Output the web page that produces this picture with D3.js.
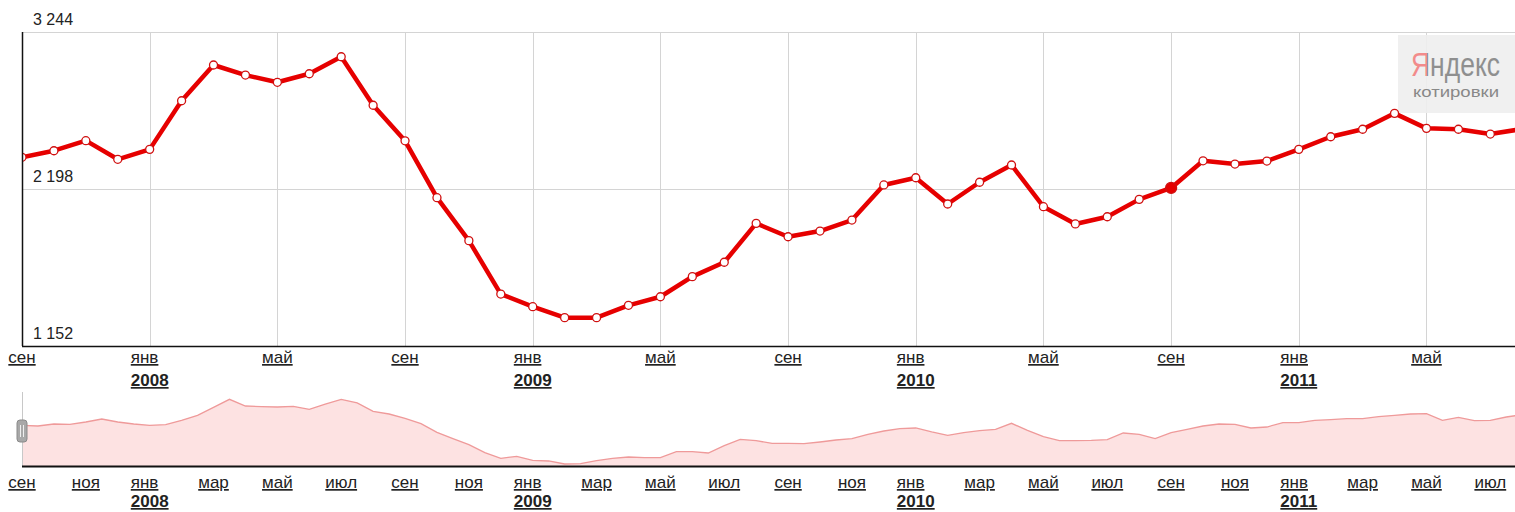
<!DOCTYPE html>
<html>
<head>
<meta charset="UTF-8">
<title>Котировки</title>
<script src="https://d3js.org/d3.v7.min.js"></script>
<style>
  body {margin:0; background:#fff;}
  text {font-family: "Liberation Sans", Arial, sans-serif; fill:#222;}
  .grid {stroke:#d4d4d4; stroke-width:1;}
  .lbl {font-size:17px; text-decoration:underline;}
  .yr {font-size:17px; font-weight:bold; text-decoration:underline;}
  .ylbl {font-size:16px; fill:#222;}
</style>
</head>
<body>
<div id="chart"></div>
<script>
// monthly closes shown on the main chart (sep 2007 .. aug 2011)
var startMonth = new Date(2007, 8, 1);
var months = d3.timeMonth.range(startMonth, new Date(2011, 8, 1));
var closeValues = [2409, 2453, 2520, 2396, 2462, 2786, 3024, 2957, 2909, 2966,
                   3079, 2756, 2519, 2140, 1854, 1498, 1414, 1341, 1341, 1423,
                   1480, 1614, 1710, 1969, 1880, 1918, 1991, 2225, 2273, 2098,
                   2243, 2358, 2080, 1965, 2013, 2129, 2205, 2386, 2364, 2384,
                   2462, 2546, 2596, 2702, 2602, 2596, 2564, 2598];
var highlightIndex = 36;   // sep 2010, drawn filled
var yTicks = [1152, 2198, 3244];

// navigator series, read twice a month (1st and 16th)
var navValues = [2409, 2389, 2448, 2438, 2507, 2595, 2507, 2448, 2409, 2429,
                 2556, 2702, 2937, 3171, 2976, 2956, 2946, 2966, 2878, 3034,
                 3171, 3064, 2819, 2741, 2614, 2458, 2204, 2018, 1842, 1608,
                 1442, 1500, 1383, 1364, 1276, 1286, 1373, 1442, 1481, 1461,
                 1461, 1637, 1637, 1598, 1813, 1999, 1960, 1881, 1881, 1872,
                 1921, 1979, 2018, 2145, 2243, 2311, 2331, 2214, 2116, 2194,
                 2253, 2292, 2468, 2262, 2077, 1960, 1960, 1969, 1989, 2184,
                 2145, 2018, 2194, 2292, 2389, 2448, 2438, 2331, 2360, 2487,
                 2487, 2556, 2575, 2604, 2604, 2663, 2702, 2741, 2751, 2556,
                 2644, 2546, 2556, 2653, 2722];
var navDomain = [1217, 3386];

var monthNames = ["янв","фев","мар","апр","май","июн","июл","авг","сен","окт","ноя","дек"];

var W = 1515, H = 512;
var left = 22, plotTop = 32, plotBottom = 346;
var navTop = 392, navBottom = 466;

var svg = d3.select("#chart").append("svg")
    .attr("width", W)
    .attr("height", H);

function monthIndex(d) {
  return d3.timeMonth.count(startMonth, d) + (d.getDate() > 1 ? 0.5 : 0);
}

var x = d3.scaleLinear()
    .domain([0, 47])
    .range([left, left + 47 * 31.92]);

var y = d3.scaleLinear()
    .domain([yTicks[0], yTicks[2]])
    .range([plotBottom, plotTop]);

var defs = svg.append("defs");
defs.append("clipPath").attr("id", "clip")
  .append("rect")
    .attr("x", left).attr("y", 0)
    .attr("width", W - left).attr("height", H);

// two-tone fill for the logo word
var logoFill = defs.append("linearGradient")
    .attr("id", "logoFill")
    .attr("gradientUnits", "userSpaceOnUse")
    .attr("x1", 0).attr("x2", 89)
    .attr("y1", 0).attr("y2", 0);
logoFill.append("stop").attr("offset", 0.185).attr("stop-color", "#f28b8b");
logoFill.append("stop").attr("offset", 0.185).attr("stop-color", "#8f8f8f");

// grid
var gridMonths = months.filter(function(d, i) {return i % 4 == 0});
svg.append("g").selectAll("line")
    .data(gridMonths)
    .enter().append("line")
    .attr("class", "grid")
    .attr("x1", function(d) {return Math.round(x(monthIndex(d))) + 0.5})
    .attr("x2", function(d) {return Math.round(x(monthIndex(d))) + 0.5})
    .attr("y1", plotTop)
    .attr("y2", plotBottom);

svg.append("g").selectAll("line")
    .data(yTicks.slice(1))
    .enter().append("line")
    .attr("class", "grid")
    .attr("x1", left)
    .attr("x2", W)
    .attr("y1", function(d) {return Math.round(y(d)) + 0.5})
    .attr("y2", function(d) {return Math.round(y(d)) + 0.5});

svg.append("g").selectAll("text")
    .data(yTicks)
    .enter().append("text")
    .attr("class", "ylbl")
    .attr("x", left + 11)
    .attr("y", function(d) {return y(d) - 7})
    .text(function(d) {return d3.format(",")(d).replace(",", " ")});

// Yandex badge
var badge = svg.append("g");
badge.append("rect")
    .attr("x", 1398).attr("y", 35)
    .attr("width", 117).attr("height", 78)
    .attr("fill", "#eeeeee").attr("opacity", 0.9);
badge.append("text")
    .attr("transform", "translate(1411,76) scale(1,1.3)")
    .attr("x", 0).attr("y", 0)
    .attr("textLength", 89)
    .attr("lengthAdjust", "spacingAndGlyphs")
    .style("font-size", "25px")
    .style("fill", "url(#logoFill)")
    .text("Яндекс");
badge.append("text")
    .attr("x", 1413).attr("y", 97)
    .attr("textLength", 86)
    .attr("lengthAdjust", "spacingAndGlyphs")
    .style("font-size", "15px")
    .style("fill", "#888")
    .text("котировки");

// main line
var line = d3.line()
    .x(function(d, i) {return x(i)})
    .y(function(d) {return y(d)});

var plot = svg.append("g").attr("clip-path", "url(#clip)");
plot.append("path")
    .datum(closeValues)
    .attr("d", line)
    .attr("fill", "none")
    .attr("stroke", "#e60000")
    .attr("stroke-width", 4.5)
    .attr("stroke-linejoin", "round");

plot.selectAll("circle")
    .data(closeValues)
    .enter().append("circle")
    .attr("cx", function(d, i) {return x(i)})
    .attr("cy", function(d) {return y(d)})
    .attr("r", function(d, i) {return i == highlightIndex ? 5.5 : 4})
    .attr("fill", function(d, i) {return i == highlightIndex ? "#e60000" : "#fff"})
    .attr("stroke", "#d01010")
    .attr("stroke-width", 1.3);

// axes lines
svg.append("line")
    .attr("x1", left).attr("x2", W)
    .attr("y1", plotTop + 0.5).attr("y2", plotTop + 0.5)
    .attr("stroke", "#d4d4d4");
svg.append("line")
    .attr("x1", left + 0.5).attr("x2", left + 0.5)
    .attr("y1", plotTop).attr("y2", plotBottom)
    .attr("stroke", "#111").attr("stroke-width", 1.5);
svg.append("line")
    .attr("x1", left).attr("x2", W)
    .attr("y1", plotBottom + 0.5).attr("y2", plotBottom + 0.5)
    .attr("stroke", "#111").attr("stroke-width", 1.5);

function monthLabels(g, data, monthY, yearY) {
  data.forEach(function(d) {
    var cx = x(monthIndex(d));
    var m = d.getMonth();
    if (m == 0) {
      var yt = g.append("text")
          .attr("class", "yr")
          .attr("x", cx).attr("y", yearY)
          .attr("text-anchor", "middle")
          .text(d.getFullYear());
      var w = yt.node().getComputedTextLength();
      g.append("text")
          .attr("class", "lbl")
          .attr("x", cx - w / 2).attr("y", monthY)
          .text(monthNames[m]);
    } else {
      g.append("text")
          .attr("class", "lbl")
          .attr("x", cx).attr("y", monthY)
          .attr("text-anchor", "middle")
          .text(monthNames[m]);
    }
  });
}

var mainLabels = svg.append("g");
monthLabels(mainLabels, gridMonths, 363, 386);

// navigator
var navDates = [];
months.forEach(function(m) {
  navDates.push(m);
  navDates.push(new Date(m.getFullYear(), m.getMonth(), 16));
});
navDates = navDates.slice(0, navValues.length);

var yNav = d3.scaleLinear()
    .domain(navDomain)
    .range([navBottom, navTop]);

var navData = navValues.map(function(v, i) {return {date: navDates[i], value: v}});

var nav = svg.append("g").attr("clip-path", "url(#clip)");
nav.append("path")
    .datum(navData)
    .attr("d", d3.area()
        .x(function(d) {return x(monthIndex(d.date))})
        .y0(navBottom)
        .y1(function(d) {return yNav(d.value)}))
    .attr("fill", "#fde2e2");
nav.append("path")
    .datum(navData)
    .attr("d", d3.line()
        .x(function(d) {return x(monthIndex(d.date))})
        .y(function(d) {return yNav(d.value)}))
    .attr("fill", "none")
    .attr("stroke", "#ef9a9a")
    .attr("stroke-width", 1.3);

svg.append("line")
    .attr("x1", left + 0.5).attr("x2", left + 0.5)
    .attr("y1", navTop).attr("y2", navBottom)
    .attr("stroke", "#c8c8c8");
svg.append("line")
    .attr("x1", left).attr("x2", W)
    .attr("y1", navBottom + 0.5).attr("y2", navBottom + 0.5)
    .attr("stroke", "#111").attr("stroke-width", 2);

// handle
var handle = svg.append("g");
handle.append("rect")
    .attr("x", 17).attr("y", 420)
    .attr("width", 10).attr("height", 22)
    .attr("rx", 3)
    .attr("fill", "#a8a8a8").attr("stroke", "#8a8a8a");
handle.selectAll("line")
    .data([20.5, 23.5])
    .enter().append("line")
    .attr("x1", function(d) {return d}).attr("x2", function(d) {return d})
    .attr("y1", 425).attr("y2", 437)
    .attr("stroke", "#eee").attr("stroke-width", 1);

var navMonths = months.filter(function(d, i) {return i % 2 == 0});
var navLabels = svg.append("g");
monthLabels(navLabels, navMonths, 488, 507);
</script>
</body>
</html>
